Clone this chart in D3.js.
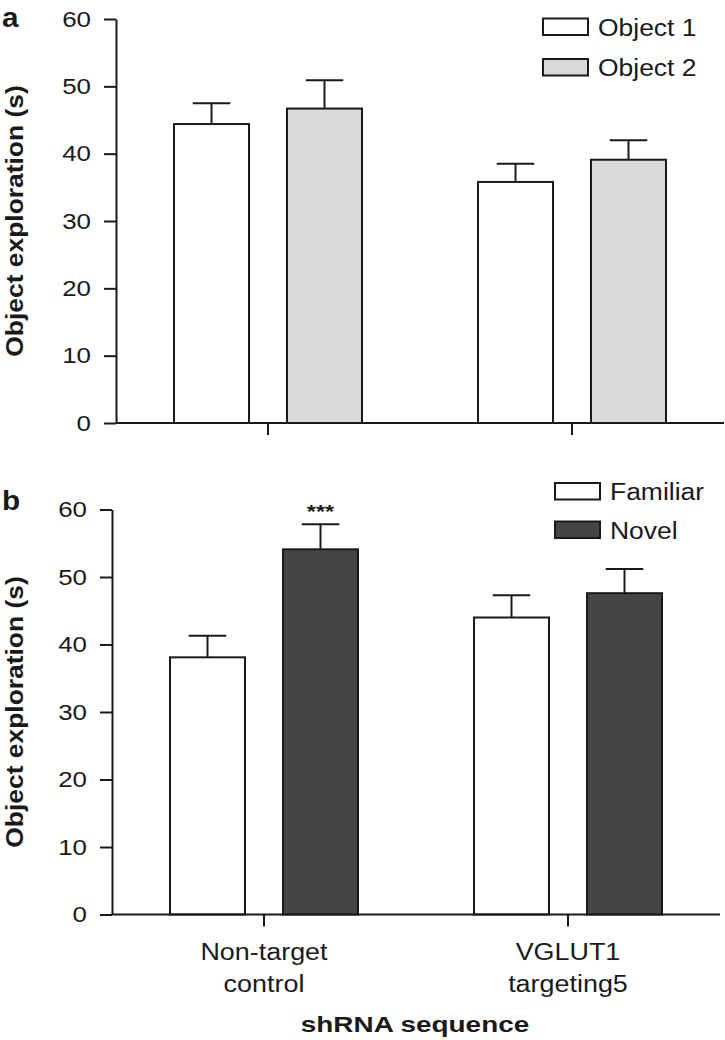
<!DOCTYPE html>
<html>
<head>
<meta charset="utf-8">
<script src="https://cdn.jsdelivr.net/npm/d3@7"></script>
<style>
  html, body { margin: 0; padding: 0; background: #fff; }
  svg { display: block; }
  text { font-family: "Liberation Sans", Arial, Helvetica, sans-serif; fill: #1a1a1a; }
</style>
</head>
<body>
<svg id="chart" width="725" height="1040"></svg>
<script>
// ---- data ----
const categories = ["Non-target control", "VGLUT1 targeting5"];
const categoryLines = [["Non-target", "control"], ["VGLUT1", "targeting5"]];
const yTicks = [0, 10, 20, 30, 40, 50, 60];

const seriesA = ["Object 1", "Object 2"];
const object1 = [44.4, 35.8];
const object1Err = [3.1, 2.7];
const object2 = [46.7, 39.1];
const object2Err = [4.2, 2.9];

const seriesB = ["Familiar", "Novel"];
const familiar = [38.1, 44.0];
const familiarErr = [3.2, 3.3];
const novel = [54.1, 47.6];
const novelErr = [3.7, 3.6];

const significance = [{ category: "Non-target control", series: "Novel", label: "***" }];

// ---- helpers ----
const svg = d3.select("#chart");
const INK = "#1a1a1a";
const SW = 2;

function stretch(sel, k) {
  sel.each(function () {
    const L = this.getComputedTextLength();
    this.setAttribute("textLength", L * k);
    this.setAttribute("lengthAdjust", "spacingAndGlyphs");
  });
}

function panel(opts) {
  const g = svg.append("g");
  const y = d3.scaleLinear().domain([0, 60]).range([opts.y0, opts.y1]);
  const x0 = d3.scaleBand().domain(categories).range([opts.xl, opts.xr]).padding(0);
  const step = x0.step();
  const x1 = d3.scaleBand().domain(opts.series)
    .range([(step - 188) / 2, (step + 188) / 2]).paddingInner(38 / 113).paddingOuter(0);

  const rows = [];
  categories.forEach((c, i) => {
    opts.series.forEach((s, j) => {
      rows.push({ category: c, series: s, value: opts.values[j][i], err: opts.errs[j][i], fill: opts.fills[j] });
    });
  });

  // bars
  g.selectAll("rect.bar").data(rows).join("rect")
    .attr("class", "bar")
    .attr("x", d => x0(d.category) + x1(d.series))
    .attr("width", x1.bandwidth())
    .attr("y", d => y(d.value))
    .attr("height", d => y(0) - y(d.value))
    .attr("fill", d => d.fill)
    .attr("stroke", INK).attr("stroke-width", SW);

  // error bars (upper only)
  const eb = g.selectAll("g.err").data(rows).join("g").attr("class", "err")
    .attr("transform", d => `translate(${x0(d.category) + x1(d.series) + x1.bandwidth() / 2},0)`);
  eb.append("line").attr("x1", 0).attr("x2", 0)
    .attr("y1", d => y(d.value)).attr("y2", d => y(d.value + d.err))
    .attr("stroke", INK).attr("stroke-width", SW);
  eb.append("line").attr("x1", -x1.bandwidth() / 4).attr("x2", x1.bandwidth() / 4)
    .attr("y1", d => y(d.value + d.err)).attr("y2", d => y(d.value + d.err))
    .attr("stroke", INK).attr("stroke-width", SW);

  // y axis
  const ya = g.append("g").attr("transform", `translate(${opts.xl},0)`)
    .call(d3.axisLeft(y).tickValues(yTicks).tickSize(12).tickSizeOuter(0).tickPadding(13));
  ya.select(".domain").attr("stroke", INK).attr("stroke-width", SW);
  ya.selectAll(".tick line").attr("stroke", INK).attr("stroke-width", SW);
  ya.selectAll(".tick text").attr("font-size", 22.5).attr("fill", INK)
    .attr("font-family", '"Liberation Sans", Arial, sans-serif').call(stretch, 1.15);

  // x axis
  const xa = g.append("g").attr("transform", `translate(0,${y(0)})`)
    .call(d3.axisBottom(x0).tickSize(12).tickSizeOuter(0).tickFormat(""));
  xa.select(".domain").attr("stroke", INK).attr("stroke-width", SW)
    .attr("d", `M${opts.xl},0H${opts.xr}`);
  xa.selectAll(".tick line").attr("stroke", INK).attr("stroke-width", SW);

  if (opts.showCatLabels) {
    categories.forEach((c, i) => {
      categoryLines[i].forEach((line, k) => {
        g.append("text").attr("x", x0(c) + step / 2).attr("y", y(0) + 45 + k * 32.5)
          .attr("text-anchor", "middle").attr("font-size", 23).text(line).call(stretch, 1.17);
      });
    });
  }

  // y title
  g.append("text")
    .attr("transform", `translate(23,${(opts.y0 + opts.y1) / 2}) rotate(-90)`)
    .attr("text-anchor", "middle").attr("font-size", 24).attr("font-weight", "bold")
    .text("Object exploration (s)").call(stretch, 1.1);

  // panel letter
  g.append("text").attr("x", 2).attr("y", opts.letterY).attr("font-size", 27)
    .attr("font-weight", "bold").text(opts.letter).call(stretch, 1.1);

  // legend
  const lg = g.append("g");
  opts.series.forEach((s, j) => {
    lg.append("rect").attr("x", opts.legX).attr("y", opts.legY + j * opts.legGap)
      .attr("width", 45).attr("height", 16.5).attr("fill", opts.fills[j])
      .attr("stroke", INK).attr("stroke-width", SW);
    lg.append("text").attr("x", opts.legX + 55).attr("y", opts.legY + j * opts.legGap + 17)
      .attr("font-size", 23).text(s).call(stretch, 1.15);
  });

  return { g, x0, x1, y };
}

// panel a
panel({
  y0: 423, y1: 19, xl: 116, xr: 724,
  series: seriesA, values: [object1, object2], errs: [object1Err, object2Err],
  fills: ["#ffffff", "#d9d9d9"], letter: "a", letterY: 27,
  legX: 543, legY: 18.5, legGap: 40.5, showCatLabels: false
});

// panel b
const pb = panel({
  y0: 914.5, y1: 509.5, xl: 112, xr: 720,
  series: seriesB, values: [familiar, novel], errs: [familiarErr, novelErr],
  fills: ["#ffffff", "#454545"], letter: "b", letterY: 510,
  legX: 555, legY: 483, legGap: 38.5, showCatLabels: true
});

// significance marks
significance.forEach(s => {
  const i = categories.indexOf(s.category);
  const top = novel[i] + novelErr[i];
  pb.g.append("text")
    .attr("x", pb.x0(s.category) + pb.x1(s.series) + pb.x1.bandwidth() / 2)
    .attr("y", pb.y(top) - 6)
    .attr("text-anchor", "middle").attr("font-size", 18).attr("font-weight", "bold")
    .text(s.label).call(stretch, 1.3);
});

// x axis title
svg.append("text").attr("x", 415).attr("y", 1031.5).attr("text-anchor", "middle")
  .attr("font-size", 22.5).attr("font-weight", "bold").text("shRNA sequence").call(stretch, 1.24);
</script>
</body>
</html>
